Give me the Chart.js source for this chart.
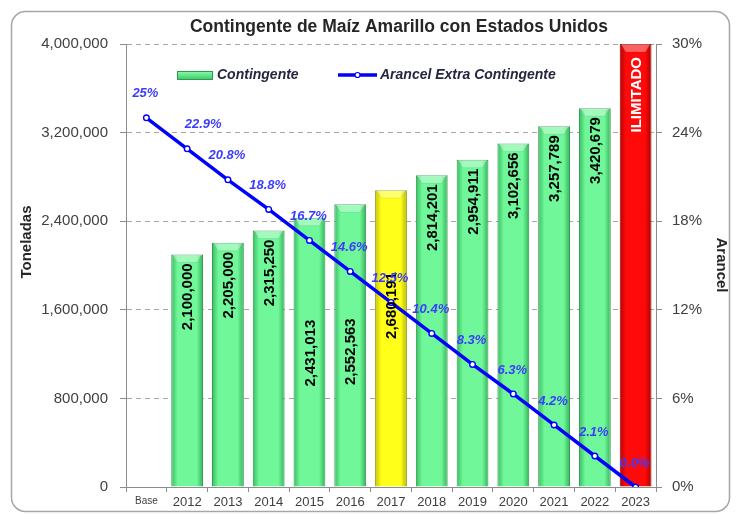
<!DOCTYPE html>
<html>
<head>
<meta charset="utf-8">
<script src="https://cdn.jsdelivr.net/npm/chart.js@4.4.0/dist/chart.umd.min.js"></script>
<style>
  html, body { margin: 0; padding: 0; background: #fff; }
  #wrap { width: 736px; height: 515px; }
</style>
</head>
<body>
<div id="wrap"><canvas id="myChart" width="736" height="515"></canvas></div>
<script>

// categories
const years = ["Base", "2012", "2013", "2014", "2015", "2016", "2017", "2018", "2019", "2020", "2021", "2022", "2023"];

// toneladas (2023 is unlimited, drawn up to the top of the axis)
const contingente = [null, 2100000, 2205000, 2315250, 2431013, 2552563, 2680191, 2814201, 2954911, 3102656, 3257789, 3420679, 4000000];
const barNotes = {12: "ILIMITADO"};

// arancel extra contingente, %
const arancel = [25, 22.9, 20.8, 18.8, 16.7, 14.6, 12.5, 10.4, 8.3, 6.3, 4.2, 2.1, 0.0];

// tick labels
const tonTicks = [0, 800000, 1600000, 2400000, 3200000, 4000000];
const pctTicks = [0, 6, 12, 18, 24, 30];

const FONT = "'Liberation Sans', Arial, sans-serif";
const BAR_PCT = 0.78;

function fmt(n){
  return n.toLocaleString("en-US");
}

function palette(i){
  if(i === 6) return ["#c4c400", "#ffff1a", "#b8b800", "#9a9a00"];
  if(i === 12) return ["#bb0000", "#ff0a0a", "#aa0000", "#8a0000"];
  return ["#38bd5f", "#70f79a", "#33b358", "#2f9a4e"];
}

function barFill(ctx){
  const chart = ctx.chart;
  const i = ctx.dataIndex;
  const c = palette(i);
  const xs = chart.scales.x;
  if(!xs || !xs.width) return c[1];
  const cx = xs.getPixelForValue(i);
  const w = xs.width / years.length * BAR_PCT;
  const g = chart.ctx.createLinearGradient(cx - w / 2, 0, cx + w / 2, 0);
  g.addColorStop(0, c[0]);
  g.addColorStop(0.2, c[1]);
  g.addColorStop(0.8, c[1]);
  g.addColorStop(1, c[2]);
  return g;
}

// frame, title and axis titles
const framePlugin = {
  id: "frame",
  beforeDraw(chart){
    const ctx = chart.ctx;
    ctx.save();
    ctx.fillStyle = "#fff";
    ctx.fillRect(0, 0, chart.width, chart.height);
    ctx.beginPath();
    ctx.roundRect(11.5, 11.5, 718, 500, 14);
    ctx.strokeStyle = "#a6a6a6";
    ctx.lineWidth = 1.5;
    ctx.stroke();
    ctx.restore();
  },
  afterDraw(chart){
    const ctx = chart.ctx;
    ctx.save();
    ctx.fillStyle = "#262626";
    ctx.font = "bold 17.5px " + FONT;
    ctx.textAlign = "center";
    ctx.textBaseline = "middle";
    ctx.fillText("Contingente de Maíz Amarillo con Estados Unidos", 399, 27);

    ctx.font = "bold 15px " + FONT;
    ctx.save();
    ctx.translate(27, 242);
    ctx.rotate(-Math.PI / 2);
    ctx.fillText("Toneladas", 0, 0);
    ctx.restore();
    ctx.save();
    ctx.translate(721, 265);
    ctx.rotate(Math.PI / 2);
    ctx.fillText("Arancel", 0, 0);
    ctx.restore();
    ctx.restore();
  }
};

// bevel on the bar tops
const bevelPlugin = {
  id: "bevel",
  afterDatasetDraw(chart, args){
    if(args.index !== 0) return;
    const ctx = chart.ctx;
    const meta = chart.getDatasetMeta(0);
    ctx.save();
    meta.data.forEach((bar, i) => {
      if(contingente[i] == null) return;
      const {x, y, width} = bar.getProps(["x", "y", "width"], true);
      const l = x - width / 2, r = x + width / 2;
      ctx.fillStyle = "rgba(255,255,255,0.35)";
      ctx.beginPath();
      ctx.moveTo(l + 1, y);
      ctx.lineTo(r - 1, y);
      ctx.lineTo(r - 6, y + 8);
      ctx.lineTo(l + 6, y + 8);
      ctx.closePath();
      ctx.fill();
      ctx.strokeStyle = "rgba(0,0,0,0.08)";
      ctx.lineWidth = 1;
      ctx.beginPath();
      ctx.moveTo(l + 1, y);
      ctx.lineTo(l + 6, y + 8);
      ctx.lineTo(r - 6, y + 8);
      ctx.lineTo(r - 1, y);
      ctx.stroke();
    });
    ctx.restore();
  }
};

// value labels for bars and line
const labelPlugin = {
  id: "valueLabels",
  afterDatasetsDraw(chart){
    const ctx = chart.ctx;
    const barShift = {4: 93, 5: 105, 6: 73};
    const bars = chart.getDatasetMeta(0).data;
    ctx.save();
    ctx.font = "bold 15px " + FONT;
    ctx.textAlign = "right";
    ctx.textBaseline = "middle";
    bars.forEach((bar, i) => {
      const v = contingente[i];
      if(v == null) return;
      const txt = barNotes[i] || fmt(v);
      const {x, y} = bar.getProps(["x", "y"], true);
      ctx.save();
      ctx.translate(x + 1, y + (barNotes[i] ? 13 : 9) + (barShift[i] || 0));
      ctx.rotate(-Math.PI / 2);
      ctx.fillStyle = barNotes[i] ? "#ffffff" : "#000000";
      ctx.fillText(txt, 0, 0);
      ctx.restore();
    });

    const pts = chart.getDatasetMeta(1).data;
    const lineShift = {1: 17};
    ctx.font = "italic bold 13px " + FONT;
    ctx.textAlign = "center";
    ctx.fillStyle = "#3c3cff";
    pts.forEach((p, i) => {
      const v = arancel[i];
      const txt = (i === 0 ? v.toFixed(0) : v.toFixed(1)) + "%";
      ctx.fillText(txt, p.x - 1 + (lineShift[i] || 0), p.y - 24);
    });
    ctx.restore();
  }
};

// legend inside the plot
const legendPlugin = {
  id: "insideLegend",
  afterDraw(chart){
    const ctx = chart.ctx;
    ctx.save();
    const g = ctx.createLinearGradient(0, 71, 0, 80);
    g.addColorStop(0, "#8affaf");
    g.addColorStop(1, "#3cc665");
    ctx.fillStyle = g;
    ctx.fillRect(177, 71, 36, 9);
    ctx.strokeStyle = "#2f9a4e";
    ctx.lineWidth = 1;
    ctx.strokeRect(177.5, 71.5, 35, 8);

    ctx.font = "italic bold 14px " + FONT;
    ctx.textBaseline = "middle";
    ctx.textAlign = "left";
    ctx.fillStyle = "#262640";
    ctx.fillText("Contingente", 217, 75);

    ctx.strokeStyle = "#0000ff";
    ctx.lineWidth = 3.5;
    ctx.beginPath();
    ctx.moveTo(338, 75);
    ctx.lineTo(377, 75);
    ctx.stroke();
    ctx.beginPath();
    ctx.arc(357.5, 75, 2.5, 0, Math.PI * 2);
    ctx.fillStyle = "#ffffff";
    ctx.fill();
    ctx.lineWidth = 1.2;
    ctx.stroke();

    ctx.fillStyle = "#262640";
    ctx.fillText("Arancel Extra Contingente", 380, 75);
    ctx.restore();
  }
};

const tickColor = "#404040";
const axisColor = "#8c8c8c";

new Chart(document.getElementById("myChart"), {
  type: "bar",
  data: {
    labels: years,
    datasets: [
      {
        type: "bar",
        label: "Contingente",
        data: contingente,
        yAxisID: "y",
        backgroundColor: barFill,
        borderColor: ctx => palette(ctx.dataIndex)[3],
        borderWidth: 1,
        barPercentage: BAR_PCT,
        categoryPercentage: 1,
        order: 1
      },
      {
        type: "line",
        label: "Arancel Extra Contingente",
        data: arancel,
        yAxisID: "y1",
        borderColor: "#0000ff",
        borderWidth: 3.5,
        pointRadius: 2.8,
        pointBackgroundColor: "#ffffff",
        pointBorderColor: "#0000ff",
        pointBorderWidth: 1.4,
        tension: 0,
        order: 0
      }
    ]
  },
  options: {
    responsive: false,
    animation: false,
    layout: { padding: { top: 44, left: 10, right: 8, bottom: 6 } },
    plugins: {
      legend: { display: false },
      tooltip: { enabled: false }
    },
    scales: {
      x: {
        offset: true,
        grid: { offset: true, drawOnChartArea: false, tickLength: 5, color: axisColor },
        border: { color: axisColor, width: 1 },
        ticks: {
          color: tickColor,
          padding: 3,
          maxRotation: 0,
          font: ctx => ({ family: FONT, size: ctx.index === 0 ? 10 : 13 })
        },
        afterFit: s => { s.height = 22; }
      },
      y: {
        position: "left",
        min: 0,
        max: 4000000,
        afterBuildTicks: s => { s.ticks = tonTicks.map(v => ({ value: v })); },
        grid: { color: "#a6a6a6", tickLength: 6, tickColor: axisColor },
        border: { color: axisColor, width: 1, dash: [5, 4] },
        ticks: {
          color: tickColor,
          padding: 12,
          font: { family: FONT, size: 15 },
          callback: v => fmt(v)
        },
        afterFit: s => { s.width = 116; }
      },
      y1: {
        position: "right",
        min: 0,
        max: 30,
        afterBuildTicks: s => { s.ticks = pctTicks.map(v => ({ value: v })); },
        grid: { drawOnChartArea: false, tickLength: 6, color: axisColor },
        border: { color: axisColor, width: 1 },
        ticks: {
          color: tickColor,
          padding: 10,
          font: { family: FONT, size: 15 },
          callback: v => v + "%"
        },
        afterFit: s => { s.width = 72; }
      }
    }
  },
  plugins: [framePlugin, bevelPlugin, labelPlugin, legendPlugin]
});
</script>
</body>
</html>
